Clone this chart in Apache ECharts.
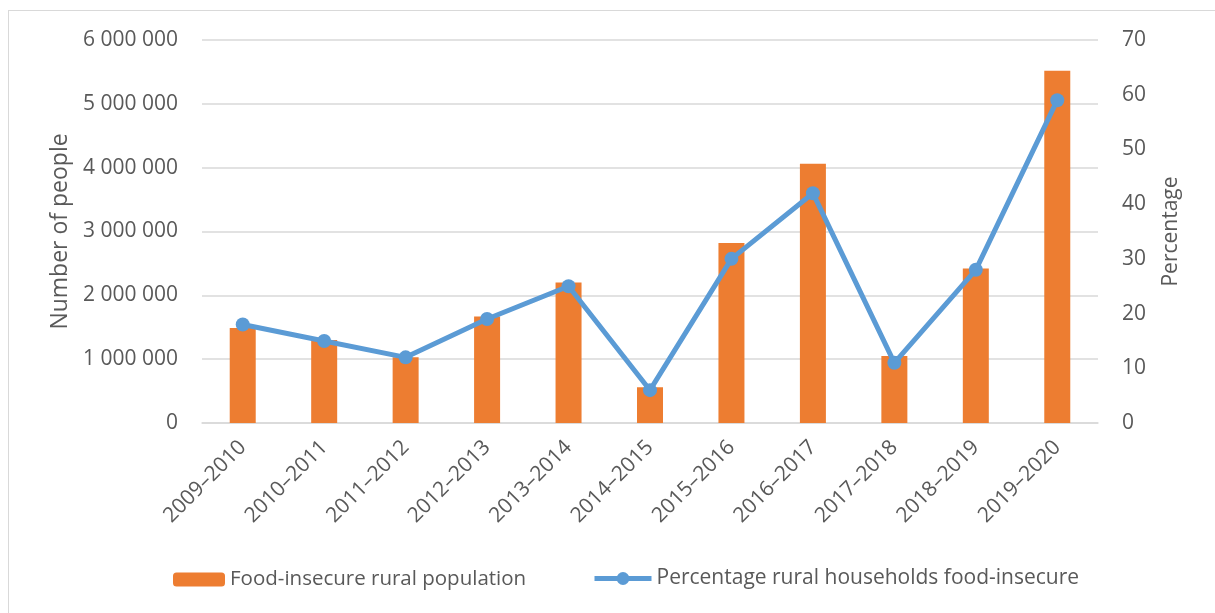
<!DOCTYPE html>
<html>
<head>
<meta charset="utf-8">
<script src="https://cdn.jsdelivr.net/npm/echarts@6/dist/echarts.min.js"></script>
<style>
  html, body { margin: 0; padding: 0; background: #fff; overflow: hidden; }
  #frame { position: absolute; left: 8px; top: 10px; width: 1300px; height: 700px;
           border-left: 1px solid #d9d9d9; border-top: 1px solid #d9d9d9; }
  #main { position: absolute; left: 0; top: 0; width: 1215px; height: 613px; }
</style>
</head>
<body>
<div id="frame"></div>
<div id="main"></div>
<script>
// data
var years = ["2009–2010", "2010–2011", "2011–2012", "2012–2013", "2013–2014", "2014–2015",
             "2015–2016", "2016–2017", "2017–2018", "2018–2019", "2019–2020"];
var population = [1490000, 1300000, 1030000, 1670000, 2200000, 560000,
                  2820000, 4060000, 1050000, 2420000, 5520000];
var percentage = [18, 15, 12, 19, 25, 6, 30, 42, 11, 28, 59];

var popName = "Food-insecure rural population";
var pctName = "Percentage rural households food-insecure";

var textColor = "#595959";
var font = "'Open Sans', sans-serif";

function spaced(v) {
  return String(v).replace(/\B(?=(\d{3})+(?!\d))/g, " ");
}

var myChart = echarts.init(document.getElementById("main"));
var option = {
  animation: false,
  textStyle: { fontFamily: font, color: textColor },
  grid: { left: 202, right: 117, top: 40, bottom: 190 },
  legend: [
    {
      data: [popName], left: 168, top: 564,
      itemWidth: 52, itemHeight: 14, itemGap: 6,
      textStyle: { fontFamily: font, fontSize: 20.5, color: textColor }
    },
    {
      data: [pctName], left: 587, top: 563,
      itemWidth: 57, itemHeight: 16, itemGap: 4,
      lineStyle: { width: 5 },
      textStyle: { fontFamily: font, fontSize: 21, color: textColor }
    }
  ],
  xAxis: {
    type: "category",
    data: years,
    axisLine: { lineStyle: { color: "#d9d9d9", width: 1.5 } },
    axisTick: { show: false },
    axisLabel: { rotate: 45, margin: 21, fontSize: 21, color: textColor, fontFamily: font }
  },
  yAxis: [
    {
      type: "value", min: 0, max: 6000000, interval: 1000000,
      name: "Number of people", nameLocation: "middle", nameRotate: 90, nameGap: 126,
      nameTextStyle: { fontSize: 23, color: textColor, fontFamily: font },
      axisLabel: { fontSize: 21, margin: 24, color: textColor, fontFamily: font, formatter: spaced },
      splitLine: { lineStyle: { color: "#d9d9d9", width: 1.5 } },
      axisLine: { show: false }, axisTick: { show: false }
    },
    {
      type: "value", min: 0, max: 70, interval: 10,
      name: "Percentage", nameLocation: "middle", nameRotate: 90, nameGap: 63,
      nameTextStyle: { fontSize: 21, color: textColor, fontFamily: font },
      axisLabel: { fontSize: 21, margin: 24, color: textColor, fontFamily: font },
      splitLine: { show: false },
      axisLine: { show: false }, axisTick: { show: false }
    }
  ],
  series: [
    {
      name: popName, type: "bar", yAxisIndex: 0,
      data: population, barWidth: 26,
      itemStyle: { color: "#ED7D31" }
    },
    {
      name: pctName, type: "line", yAxisIndex: 1,
      data: percentage,
      symbol: "circle", symbolSize: 14,
      lineStyle: { color: "#5B9BD5", width: 5 },
      itemStyle: { color: "#5B9BD5" }
    }
  ]
};
myChart.setOption(option);
</script>
</body>
</html>
